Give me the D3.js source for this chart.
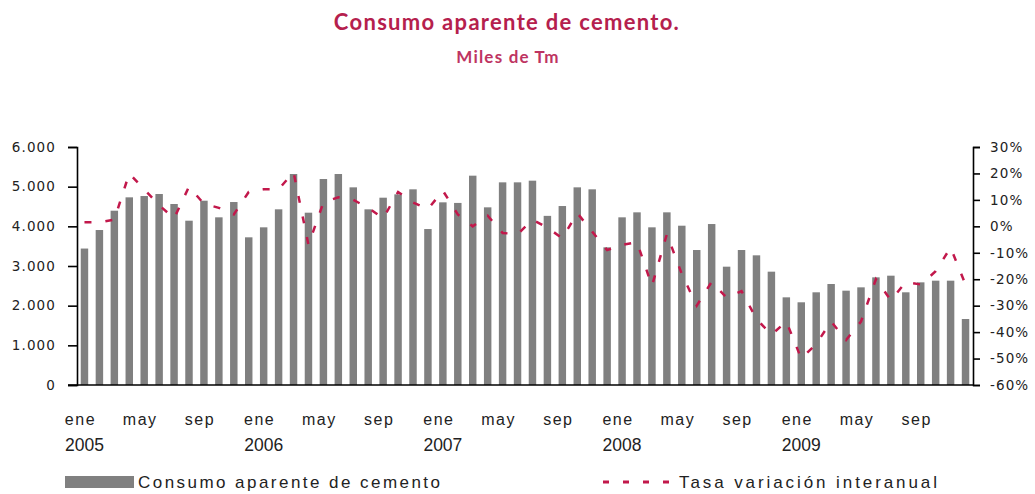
<!DOCTYPE html>
<html>
<head>
<meta charset="utf-8">
<script src="https://cdn.jsdelivr.net/npm/d3@7"></script>
<style>
  html, body { margin: 0; padding: 0; background: #ffffff; }
  svg { display: block; }
</style>
</head>
<body>
<svg id="chart" width="1035" height="494"></svg>
<script>
// ---- Data ----
const years = ["2005", "2006", "2007", "2008", "2009"];
const monthNames = ["ene", "feb", "mar", "abr", "may", "jun", "jul", "ago", "sep", "oct", "nov", "dic"];
const categories = years.flatMap(y => monthNames.map(m => m + " " + y));

const consumo = [
  3440, 3907, 4394, 4731, 4764, 4815, 4563, 4142, 4646, 4227, 4613, 3723,
  3975, 4429, 5319, 4344, 5193, 5319, 4983, 4429, 4722, 4807, 4933, 3932,
  4605, 4590, 5277, 4479, 5109, 5109, 5151, 4264, 4512, 4983, 4933, 3471,
  4227, 4353, 3975, 4353, 4016, 3403, 4058, 2983, 3403, 3269, 2857, 2210,
  2085, 2337, 2546, 2378, 2462, 2714, 2756, 2337, 2588, 2630, 2630, 1664
];

const tasa = [
  1.5, 1.5, 2.5, 20, 14, 8, 3, 15, 8.5, 7, 4.5, 13,
  14, 14, 20.5, -7, 9, 11, 10, 7, 3, 13, 9, 6.5,
  13.5, 4.5, 0, 4, -2.5, -3, 2.5, -0.5, -4.5, 5, -2, -9,
  -7, -6, -22.5, -3, -18, -30, -21, -27, -24.5, -35, -41, -36,
  -50, -44.5, -36, -43, -36, -20, -28, -21, -22, -17, -8, -22
];

const leftTicks = [0, 1000, 2000, 3000, 4000, 5000, 6000];
const rightTicks = [-60, -50, -40, -30, -20, -10, 0, 10, 20, 30];
const shownMonths = ["ene", "may", "sep"];

const titleText = "Consumo aparente de cemento.";
const subtitleText = "Miles de Tm";
const legendBar = "Consumo aparente de cemento";
const legendLine = "Tasa variación interanual";

// ---- Layout ----
const svg = d3.select("#chart");
const plot = { left: 77, right: 973, top: 147, bottom: 385 };
const crimson = "#C2184B";
const titleColor = "#B5204D";

const x = d3.scaleBand().domain(categories).range([plot.left, plot.right])
  .paddingInner(0.5).paddingOuter(0.25);
const yL = d3.scaleLinear().domain([0, 6000]).range([plot.bottom, plot.top]);
const yR = d3.scaleLinear().domain([-60, 30]).range([plot.bottom, plot.top]);

const fmtThousands = d3.formatLocale({ decimal: ",", thousands: ".", grouping: [3], currency: ["", "€"] }).format(",d");

// Title
svg.append("text").attr("x", 507).attr("y", 30).attr("text-anchor", "middle")
  .attr("font-family", "Lato, 'Open Sans', sans-serif").attr("font-weight", 700)
  .attr("font-size", 22).attr("letter-spacing", 1.3).attr("fill", titleColor).text(titleText);
svg.append("text").attr("x", 508).attr("y", 63).attr("text-anchor", "middle")
  .attr("font-family", "Lato, 'Open Sans', sans-serif").attr("font-weight", 700)
  .attr("font-size", 17).attr("letter-spacing", 1.2).attr("fill", "#BE3462").text(subtitleText);

// Bars
svg.append("g").selectAll("rect").data(consumo).join("rect")
  .attr("x", (d, i) => x(categories[i]))
  .attr("y", d => yL(d))
  .attr("width", x.bandwidth())
  .attr("height", d => yL(0) - yL(d))
  .attr("fill", "#808080");

// Line
const line = d3.line()
  .x((d, i) => x(categories[i]) + x.bandwidth() / 2)
  .y(d => yR(d));
svg.append("path").datum(tasa)
  .attr("d", line).attr("fill", "none")
  .attr("stroke", crimson).attr("stroke-width", 2.5)
  .attr("stroke-dasharray", "7,14");

// Left axis
const axL = d3.axisLeft(yL).tickValues(leftTicks).tickSize(9).tickPadding(12)
  .tickFormat(d => fmtThousands(d));
const gL = svg.append("g").attr("transform", `translate(${plot.left},0)`).call(axL);
gL.select(".domain").attr("stroke", "#000").attr("stroke-width", 1.6);
gL.selectAll(".tick line").attr("stroke", "#000").attr("stroke-width", 1.6);
gL.selectAll(".tick text").attr("font-family", "'DejaVu Sans', sans-serif")
  .attr("font-size", 13.5).attr("letter-spacing", 1.1).attr("fill", "#222");

// Right axis
const axR = d3.axisRight(yR).tickValues(rightTicks).tickSize(7).tickPadding(10)
  .tickFormat(d => d + "%");
const gR = svg.append("g").attr("transform", `translate(${plot.right},0)`).call(axR);
gR.select(".domain").attr("stroke", "#000").attr("stroke-width", 1.6);
gR.selectAll(".tick line").attr("stroke", "#000").attr("stroke-width", 1.6);
gR.selectAll(".tick text").attr("font-family", "'DejaVu Sans', sans-serif")
  .attr("font-size", 13.5).attr("letter-spacing", 1.1).attr("fill", "#222");

// Bottom axis line
svg.append("line").attr("x1", plot.left - 9).attr("x2", plot.right)
  .attr("y1", yL(0)).attr("y2", yL(0)).attr("stroke", "#000").attr("stroke-width", 1.6);

// Month labels
const monthTicks = categories.filter(c => shownMonths.includes(c.split(" ")[0]));
const axB = d3.axisBottom(x).tickValues(monthTicks).tickSize(0).tickPadding(0)
  .tickFormat(c => c.split(" ")[0]);
const gB = svg.append("g").attr("transform", `translate(-4,419)`).call(axB);
gB.select(".domain").remove();
gB.selectAll(".tick text").attr("font-family", "'Liberation Sans', Arial, sans-serif")
  .attr("font-size", 16).attr("letter-spacing", 1.5).attr("fill", "#222").attr("dy", "0.35em");

// Year labels
const yearTicks = categories.filter(c => c.startsWith("ene"));
const axY = d3.axisBottom(x).tickValues(yearTicks).tickSize(0).tickPadding(0)
  .tickFormat(c => c.split(" ")[1]);
const gY = svg.append("g").attr("transform", `translate(0,445)`).call(axY);
gY.select(".domain").remove();
gY.selectAll(".tick text").attr("font-family", "'Liberation Sans', Arial, sans-serif")
  .attr("font-size", 17.5).attr("fill", "#222").attr("dy", "0.35em");

// Legend
const lg = svg.append("g");
lg.append("rect").attr("x", 65).attr("y", 476).attr("width", 69).attr("height", 12).attr("fill", "#808080");
lg.append("text").attr("x", 138).attr("y", 488)
  .attr("font-family", "'Liberation Sans', Arial, sans-serif").attr("font-size", 17)
  .attr("textLength", 302).attr("lengthAdjust", "spacing")
  .attr("fill", "#222").text(legendBar);
lg.append("line").attr("x1", 603).attr("x2", 678).attr("y1", 482).attr("y2", 482)
  .attr("stroke", crimson).attr("stroke-width", 3).attr("stroke-dasharray", "6,14");
lg.append("text").attr("x", 679).attr("y", 488)
  .attr("font-family", "'Liberation Sans', Arial, sans-serif").attr("font-size", 17)
  .attr("textLength", 258).attr("lengthAdjust", "spacing")
  .attr("fill", "#222").text(legendLine);
</script>
</body>
</html>
